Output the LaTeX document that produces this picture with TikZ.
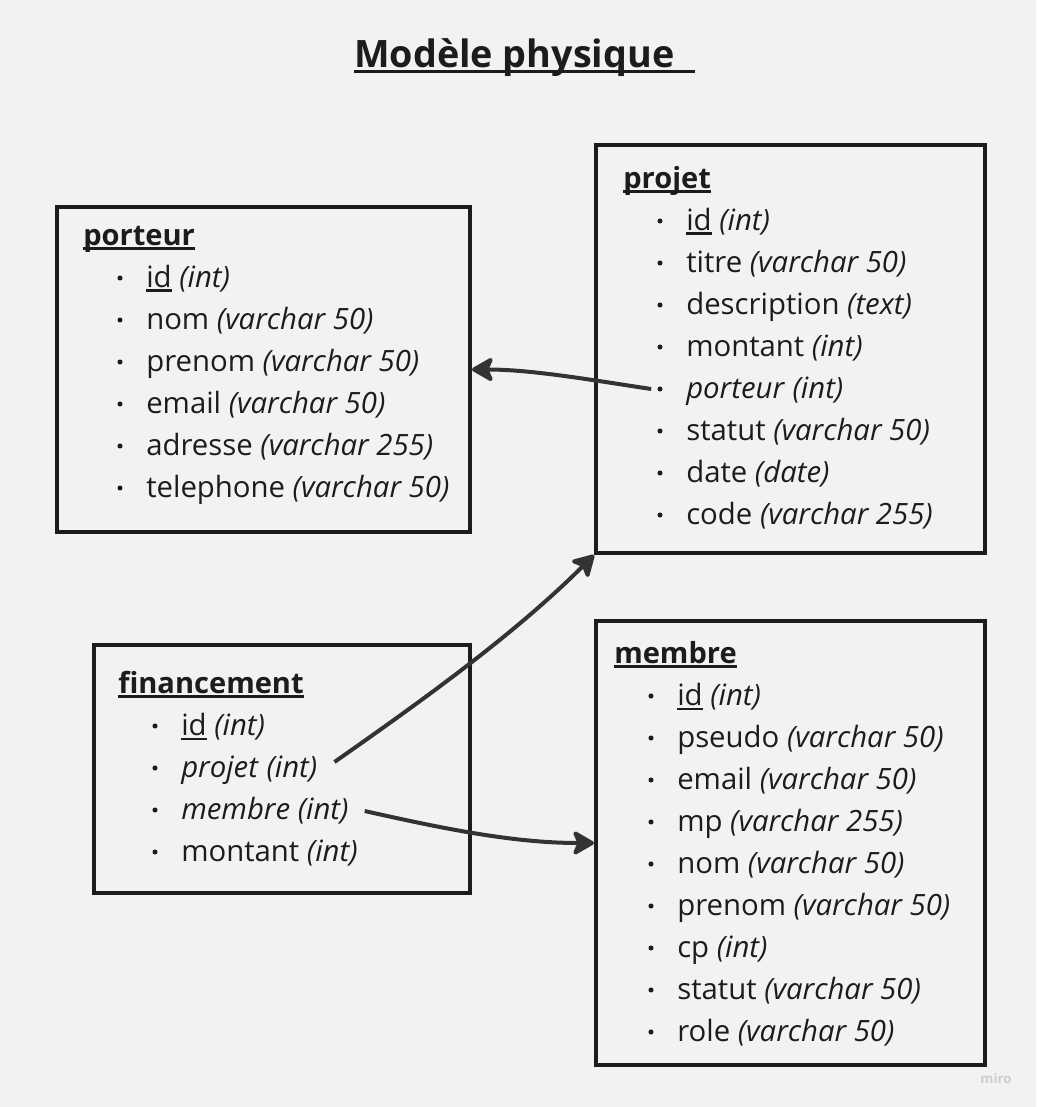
\documentclass[tikz,border=0pt]{standalone}
\usepackage{fontspec}
\setmainfont{Open Sans}
\usetikzlibrary{arrows.meta, fit}

\definecolor{paper}{HTML}{F2F2F2}
\definecolor{ink}{HTML}{1C1C1C}
\definecolor{wire}{HTML}{333333}
\definecolor{mirogray}{HTML}{CDCDD6}

% underline for keys and table names
\newcommand{\keyline}[1]{\setbox0\hbox{#1}\rlap{\rule[-0.16em]{\wd0}{0.075em}}\box0\relax}
\newcommand{\kind}[1]{\textit{(#1)}}

% one table: prefix, x of header, baseline of header, rows
\newcommand{\tablerows}[4]{%
  \foreach \attrtext [count=\i] in {#4} {
    \node[dot]  (#1-dot-\i) at ({#2+37}, {#3+42*\i-9}) {};
    \node[attr] (#1-\i)     at ({#2+63}, {#3+42*\i}) {\attrtext};
  }}

\begin{document}
\begin{tikzpicture}[x=0.75pt, y=-0.75pt,
    table/.style={draw=ink, line width=3pt, inner sep=0pt},
    title/.style={anchor=base west, inner sep=0pt, text=ink,
      font=\bfseries\fontsize{28.3}{32}\selectfont},
    head/.style={anchor=base west, inner sep=0pt, text=ink,
      font=\bfseries\fontsize{21.8}{24}\selectfont},
    attr/.style={anchor=base west, inner sep=0pt, text=ink,
      font=\fontsize{22}{24}\selectfont},
    dot/.style={circle, fill=ink, inner sep=0pt, minimum size=3.8pt},
    link/.style={draw=wire, line width=3pt,
      -{Stealth[length=18.5pt, width=21pt, inset=4.5pt, round]}},
  ]
  \useasboundingbox (0,0) rectangle (1036,1107);
  \fill[paper] (0,0) rectangle (1036,1107);

  \node[title] (title) at (354,67) {\keyline{Modèle physique\hspace{0.55em}}};

  % tables
  \node[table, fit={(57,207) (470,532)}]  (porteur) {};
  \node[table, fit={(596,145) (985,553)}] (projet) {};
  \node[table, fit={(94,645) (470,893)}]  (financement) {};
  \node[table, fit={(596,621) (985,1065)}] (membre) {};

  \node[head] (porteur-head) at (83,245) {\keyline{porteur}};
  \tablerows{porteur}{83}{245}{{\keyline{id} \kind{int}}, nom \kind{varchar 50},
    prenom \kind{varchar 50}, email \kind{varchar 50}, adresse \kind{varchar 255},
    telephone \kind{varchar 50}}

  \node[head] (projet-head) at (623,188) {\keyline{projet}};
  \tablerows{projet}{623}{188}{{\keyline{id} \kind{int}}, titre \kind{varchar 50},
    description \kind{text}, montant \kind{int}, \textit{porteur} \kind{int},
    statut \kind{varchar 50}, date \kind{date}, code \kind{varchar 255}}

  \node[head] (financement-head) at (118,693) {\keyline{financement}};
  \tablerows{financement}{118}{693}{{\keyline{id} \kind{int}}, \textit{projet} \kind{int},
    \textit{membre} \kind{int}, montant \kind{int}}

  \node[head] (membre-head) at (614,663) {\keyline{membre}};
  \tablerows{membre}{614}{663}{{\keyline{id} \kind{int}}, pseudo \kind{varchar 50},
    email \kind{varchar 50}, mp \kind{varchar 255}, nom \kind{varchar 50},
    prenom \kind{varchar 50}, cp \kind{int}, statut \kind{varchar 50},
    role \kind{varchar 50}}

  % foreign keys
  \draw[link] ([shift={(-6,0)}]projet-dot-5.west)
    .. controls +(-60,-9) and +(60,0) .. (porteur.east);
  \draw[link] ([shift={(17,-15)}]financement-2.base east)
    .. controls +(90,-63) and +(-78,78) .. (projet.south west);
  \draw[link] ([shift={(16,-8)}]financement-3.base east)
    .. controls +(80,18) and +(-80,0) .. (membre.west);

  \node[text=mirogray, font=\bfseries\fontsize{10}{11}\selectfont] (miro) at (996,1078) {miro};
\end{tikzpicture}
\end{document}
